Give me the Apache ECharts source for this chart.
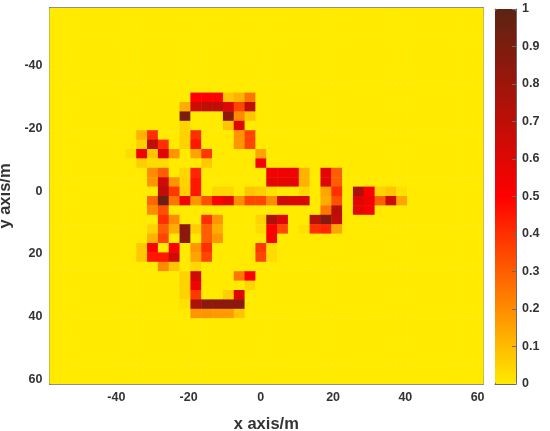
<!DOCTYPE html>
<html>
<head>
<meta charset="utf-8">
<style>
html, body { margin: 0; padding: 0; background: #fff; }
#chart { width: 550px; height: 431px; }
</style>
<script src="https://cdn.jsdelivr.net/npm/echarts@6/dist/echarts.min.js"></script>
</head>
<body>
<div id="chart"></div>
<script>
// 网格中心坐标（单位 m，每格 3 m）
const xCenters = [-57,-54,-51,-48,-45,-42,-39,-36,-33,-30,-27,-24,-21,-18,-15,-12,-9,-6,-3,0,3,6,9,12,15,18,21,24,27,30,33,36,39,42,45,48,51,54,57,60];
const yCenters = [-57,-54,-51,-48,-45,-42,-39,-36,-33,-30,-27,-24,-21,-18,-15,-12,-9,-6,-3,0,3,6,9,12,15,18,21,24,27,30,33,36,39,42,45,48,51,54,57,60];
const xTicks = [-40, -20, 0, 20, 40, 60];
const yTicks = [-40, -20, 0, 20, 40, 60];

// 非零格子 [列, 行, 幅值]，其余格子为 0
const hotCells = [
  [13,9,.5],[14,9,.5],[15,9,.5],[16,9,.08],[17,9,.12],[18,9,.25],
  [12,10,.13],[13,10,.65],[14,10,.7],[15,10,.7],[16,10,.6],[17,10,.35],[18,10,.7],
  [12,11,.9],[16,11,.85],[17,11,.2],[18,11,.08],
  [12,12,.05],[16,12,.08],[17,12,.6],
  [8,13,.12],[9,13,.4],[12,13,.05],[13,13,.4],[17,13,.18],[18,13,.35],
  [8,14,.06],[9,14,.7],[10,14,.4],[12,14,.05],[13,14,.45],[17,14,.18],[18,14,.35],
  [7,15,.03],[8,15,.55],[9,15,.08],[10,15,.6],[11,15,.18],[13,15,.15],[14,15,.38],[19,15,.15],
  [8,16,.06],[9,16,.03],[10,16,.03],[14,16,.07],[19,16,.52],
  [9,17,.2],[10,17,.3],[12,17,.04],[13,17,.42],[20,17,.55],[21,17,.55],[22,17,.55],[23,17,.12],[25,17,.58],[26,17,.3],
  [9,18,.18],[10,18,.65],[11,18,.18],[12,18,.05],[13,18,.45],[20,18,.58],[21,18,.58],[22,18,.58],[23,18,.12],[25,18,.6],[26,18,.3],
  [10,19,.7],[11,19,.38],[12,19,.06],[13,19,.45],[15,19,.04],[16,19,.04],[18,19,.08],[19,19,.06],[20,19,.02],[23,19,.04],[25,19,.15],[26,19,.4],[28,19,.75],[29,19,.5],[30,19,.05],[31,19,.08],[32,19,.02],
  [9,20,.28],[10,20,.95],[11,20,.25],[12,20,.55],[13,20,.18],[14,20,.33],[15,20,.5],[16,20,.58],[17,20,.2],[18,20,.35],[19,20,.35],[20,20,.2],[21,20,.65],[22,20,.62],[23,20,.62],[25,20,.13],[26,20,.33],[28,20,.6],[29,20,.55],[30,20,.3],[31,20,.65],[32,20,.15],
  [9,21,.2],[10,21,.33],[25,21,.25],[26,21,.72],[28,21,.58],[29,21,.52],
  [10,22,.4],[11,22,.2],[14,22,.4],[15,22,.18],[19,22,.05],[20,22,.75],[21,22,.6],[24,22,.72],[25,22,.88],[26,22,.68],
  [9,23,.05],[10,23,.3],[11,23,.13],[12,23,.85],[13,23,.06],[14,23,.3],[15,23,.13],[19,23,.03],[20,23,.5],[21,23,.35],[23,23,.02],[24,23,.4],[25,23,.42],[26,23,.15],
  [9,24,.12],[10,24,.35],[12,24,.85],[14,24,.3],[15,24,.18],[20,24,.52],
  [8,25,.07],[9,25,.5],[11,25,.5],[13,25,.18],[14,25,.4],[19,25,.38],[20,25,.03],
  [8,26,.07],[9,26,.45],[10,26,.45],[11,26,.65],[13,26,.15],[14,26,.35],[19,26,.35],[20,26,.03],
  [10,27,.2],[11,27,.08],[13,27,.04],
  [12,28,.05],[13,28,.65],[17,28,.25],[18,28,.5],
  [12,29,.05],[13,29,.55],[18,29,.04],
  [12,30,.05],[13,30,.38],[16,30,.06],[17,30,.6],
  [12,31,.02],[13,31,.75],[14,31,.85],[15,31,.85],[16,31,.85],[17,31,.85],
  [13,32,.18],[14,32,.18],[15,32,.17],[16,32,.17],[17,32,.08]
];

const colorTicks = [0, 0.1, 0.2, 0.3, 0.4, 0.5, 0.6, 0.7, 0.8, 0.9, 1];
const colorStops = ['#FFEA00', '#FF0000', '#5B2412'];

// 组装全部格子
const cellData = [];
yCenters.forEach(y => {
    xCenters.forEach(x => cellData.push([x, y, 0]));
});
hotCells.forEach(c => {
    cellData[c[1] * xCenters.length + c[0]][2] = c[2];
});

const frameColor = '#6b6b6b';
const textColor = '#333';
const labelFont = { fontFamily: 'Liberation Sans', fontWeight: 'bold', fontSize: 12.5, color: textColor };

function frameAxis(pos, ticks, extra) {
    return Object.assign({
        type: 'value',
        position: pos,
        min: -58.5,
        max: 61.5,
        splitLine: { show: false },
        axisLine: { show: true, onZero: false, lineStyle: { color: frameColor, width: 1.5 } },
        axisTick: { show: true, inside: true, length: 4, customValues: ticks, lineStyle: { color: frameColor, width: 1 } },
        axisLabel: { show: false }
    }, extra || {});
}

const chart = echarts.init(document.getElementById('chart'), null, { renderer: 'canvas' });

chart.setOption({
    animation: false,
    backgroundColor: '#fff',
    grid: [
        { left: 49.5, right: 67, top: 8, bottom: 47, outerBoundsMode: 'none' },
        { left: 495, width: 21, top: 9, height: 375, outerBoundsMode: 'none' }
    ],
    xAxis: [
        frameAxis('bottom', xTicks, {
            name: 'x axis/m',
            nameLocation: 'middle',
            nameGap: 32,
            nameTextStyle: { fontFamily: 'Liberation Sans', fontWeight: 'bold', fontSize: 16.5, color: textColor },
            axisLabel: Object.assign({ show: true, margin: 7, customValues: xTicks }, labelFont)
        }),
        frameAxis('top', xTicks),
        { gridIndex: 1, type: 'value', min: 0, max: 1, position: 'top', axisLine: { onZero: false, lineStyle: { color: frameColor } }, axisTick: { show: false }, axisLabel: { show: false }, splitLine: { show: false } },
        { gridIndex: 1, type: 'value', min: 0, max: 1, position: 'bottom', axisLine: { onZero: false, lineStyle: { color: frameColor } }, axisTick: { show: false }, axisLabel: { show: false }, splitLine: { show: false } }
    ],
    yAxis: [
        frameAxis('left', yTicks, {
            inverse: true,
            name: 'y axis/m',
            nameLocation: 'middle',
            nameGap: 27,
            nameTextStyle: { fontFamily: 'Liberation Sans', fontWeight: 'bold', fontSize: 16.5, color: textColor },
            axisLabel: Object.assign({ show: true, margin: 7, customValues: yTicks }, labelFont)
        }),
        frameAxis('right', yTicks, { inverse: true }),
        {
            gridIndex: 1,
            type: 'value',
            position: 'right',
            min: 0,
            max: 1,
            interval: 0.1,
            z: 10,
            splitLine: { show: false },
            axisLine: { show: true, onZero: false, lineStyle: { color: frameColor } },
            axisTick: { show: true, inside: true, length: 4, lineStyle: { color: frameColor } },
            axisLabel: Object.assign({ margin: 6, customValues: colorTicks, formatter: v => String(v) }, labelFont)
        },
        { gridIndex: 1, type: 'value', position: 'left', min: 0, max: 1, axisLine: { show: true, onZero: false, lineStyle: { color: frameColor } }, axisTick: { show: false }, axisLabel: { show: false }, splitLine: { show: false } }
    ],
    visualMap: {
        type: 'continuous',
        seriesIndex: 0,
        dimension: 2,
        min: 0,
        max: 1,
        calculable: false,
        realtime: false,
        text: null,
        showLabel: false,
        left: 495,
        top: 9,
        padding: 0,
        itemWidth: 21,
        itemHeight: 375,
        inRange: { color: colorStops }
    },
    series: [{
        type: 'custom',
        coordinateSystem: 'cartesian2d',
        xAxisIndex: 0,
        yAxisIndex: 0,
        clip: true,
        silent: true,
        data: cellData,
        encode: { x: 0, y: 1 },
        renderItem: (params, api) => {
            const center = api.coord([api.value(0), api.value(1)]);
            const size = api.size([3, 3]);
            // 多画半个像素，避免格子之间出现缝
            return {
                type: 'rect',
                shape: { x: center[0] - size[0] / 2, y: center[1] - size[1] / 2, width: size[0] + 0.5, height: size[1] + 0.5 },
                style: { fill: api.visual('color') }
            };
        }
    }]
});
</script>
</body>
</html>
